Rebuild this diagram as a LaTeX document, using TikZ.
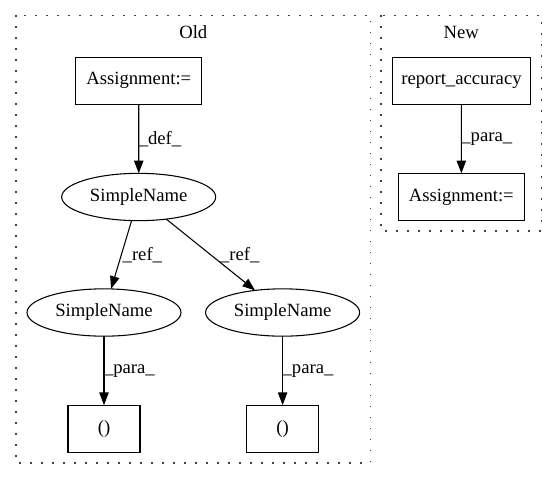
\documentclass[tikz,border=0pt]{standalone}
\usepackage{fontspec}
\setmainfont{Liberation Serif}
\usetikzlibrary{shapes.geometric,arrows.meta}
\begin{document}
\begin{tikzpicture}[x=0.75pt,y=-0.75pt,
  font=\fontsize{14pt}{16pt}\selectfont,
  every node/.style={inner sep=0pt,outer sep=0pt},
  gbox/.style={draw=black,line width=0.8pt,rectangle,minimum height=35.5pt},
  gell/.style={draw=black,line width=0.8pt,ellipse,minimum width=115.5pt,minimum height=35.5pt},
  cluster/.style={draw=black!75,line width=0.9pt,dash pattern=on 1.3pt off 6.95pt},
  edge/.style={draw=black,line width=0.8pt,-{Triangle[length=9.5pt,width=7pt]}},
  elabel/.style={anchor=west,inner sep=0pt}]
\useasboundingbox (0,0) rectangle (557,480);
% clusters
\draw[cluster] (16,15.3) rectangle (370.7,463);
\draw[cluster] (381,15.3) rectangle (541.3,231);
\node (oldlbl) at (193.3,32) {Old};
\node (newlbl) at (461.2,32) {New};
% Old nodes
\node[gbox,minimum width=94.3pt] (oa) at (138.8,80.7) {Assignment:=};
\node[gell] (sn0) at (138.7,197) {SimpleName};
\node[gell] (sn1) at (104,312.5) {SimpleName};
\node[gell] (sn2) at (282.6,312.5) {SimpleName};
\node[gbox,minimum width=54pt] (p1) at (104,428.8) {()};
\node[gbox,minimum width=54pt] (p2) at (282.6,428.8) {()};
% New nodes
\node[gbox,minimum width=104pt] (ra) at (461.5,81) {report\_accuracy};
\node[gbox,minimum width=94.5pt] (na) at (461.3,197) {Assignment:=};
% edges
\draw[edge] (oa) -- node[elabel] {\_def\_} (sn0);
\draw[edge] (sn0) -- node[elabel,xshift=1pt] {\_ref\_} (sn1);
\draw[edge] (sn0) -- node[elabel,xshift=7pt] {\_ref\_} (sn2);
\draw[edge] (sn1) -- node[elabel] {\_para\_} (p1);
\draw[edge] (sn2) -- node[elabel] {\_para\_} (p2);
\draw[edge] (ra) -- node[elabel] {\_para\_} (na);
\end{tikzpicture}
\end{document}
